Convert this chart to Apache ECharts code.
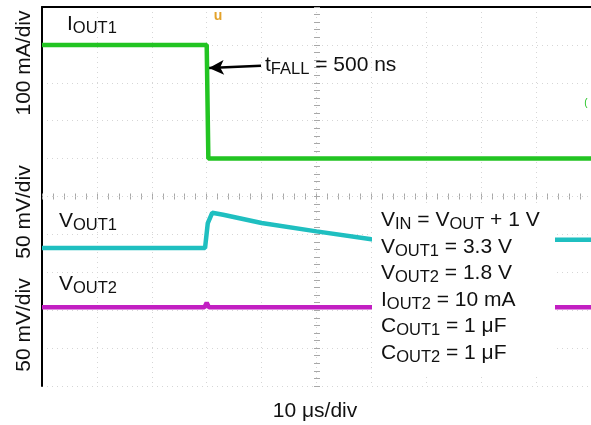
<!DOCTYPE html>
<html>
<head>
<meta charset="utf-8">
<script src="https://cdn.jsdelivr.net/npm/echarts@6/dist/echarts.min.js"></script>
<style>
  html, body { margin: 0; padding: 0; background: #fff; }
  #chart { width: 591px; height: 425px; }
</style>
</head>
<body>
<div id="chart"></div>
<script>
// Scope capture: load-current step on channel 1, both outputs.
// Time in divisions (10 µs/div), amplitudes in screen divisions.
const iout1Time = [0, 3.0, 3.03, 10];
const iout1Div  = [9.0, 9.0, 6.0, 6.0];

const vout1Time = [0, 2.97, 3.02, 3.1, 3.3, 4.0, 5.0, 6.0, 7.0, 10];
const vout1Div  = [3.64, 3.64, 4.3, 4.57, 4.52, 4.3, 4.08, 3.87, 3.86, 3.86];

const vout2Time = [0, 2.96, 3.0, 3.04, 10];
const vout2Div  = [2.08, 2.08, 2.2, 2.08, 2.08];

const xDivisions = [0, 10];
const yDivisions = [0, 10];

const FONT = "'Liberation Sans', Arial, Helvetica, sans-serif";
const pairs = (xs, ys) => xs.map((x, i) => [x, ys[i]]);

const mainStyle = { fontSize: 21, fontFamily: FONT, color: '#111', lineHeight: 26.5 };
const subStyle  = { fontSize: 16.5, fontFamily: FONT, color: '#111', lineHeight: 26.5, padding: [9, 0, 0, 0] };
const rich = { m: mainStyle, s: subStyle };

function richText(x, y, text) {
  return {
    type: 'text', x: x, y: y, z: 120,
    style: { text: text, rich: rich, fill: '#111', font: '21px ' + FONT, verticalAlign: 'top', align: 'left' }
  };
}

function sideTitle(x, y, text) {
  return {
    type: 'text', x: x, y: y, rotation: Math.PI / 2, z: 120,
    style: { text: text, fill: '#111', font: '21px ' + FONT, align: 'center', verticalAlign: 'middle' }
  };
}

const gridLine = { color: '#d6d6d6', width: 1, type: [1, 4] };
const centreTick = { color: '#a8a8a8', width: 1 };

const chart = echarts.init(document.getElementById('chart'), null, { renderer: 'canvas' });

chart.setOption({
  animation: false,
  backgroundColor: '#fff',
  grid: { left: 42, top: 7, width: 550, height: 379, containLabel: false },
  xAxis: [
    { type: 'value', min: xDivisions[0], max: xDivisions[1], interval: 1,
      axisLine: { show: false }, axisTick: { show: false }, axisLabel: { show: false },
      splitLine: { show: true, lineStyle: gridLine } },
    { type: 'value', position: 'top', min: xDivisions[0], max: xDivisions[1], interval: 1,
      axisLine: { show: true, onZero: false, lineStyle: { color: '#000', width: 2 } },
      axisTick: { show: false }, axisLabel: { show: false }, splitLine: { show: false } },
    // minor ticks along the horizontal centre line
    { type: 'value', position: 'bottom', offset: -189.5, min: xDivisions[0], max: xDivisions[1], interval: 1,
      axisLine: { show: false, onZero: false },
      axisTick: { show: true, inside: true, length: 3, lineStyle: centreTick },
      minorTick: { show: true, splitNumber: 5, length: 3, lineStyle: centreTick },
      axisLabel: { show: false }, splitLine: { show: false } },
    { type: 'value', position: 'bottom', offset: -189.5, min: xDivisions[0], max: xDivisions[1], interval: 1,
      axisLine: { show: false, onZero: false },
      axisTick: { show: true, inside: false, length: 3, lineStyle: centreTick },
      minorTick: { show: true, splitNumber: 5, length: 3, lineStyle: centreTick },
      axisLabel: { show: false }, splitLine: { show: false } }
  ],
  yAxis: [
    { type: 'value', min: yDivisions[0], max: yDivisions[1], interval: 1,
      axisLine: { show: true, onZero: false, lineStyle: { color: '#000', width: 2 } },
      axisTick: { show: false }, axisLabel: { show: false },
      splitLine: { show: true, lineStyle: gridLine } },
    // minor ticks along the vertical centre line
    { type: 'value', position: 'left', offset: -275, min: yDivisions[0], max: yDivisions[1], interval: 1,
      axisLine: { show: false, onZero: false },
      axisTick: { show: true, inside: true, length: 3, lineStyle: centreTick },
      minorTick: { show: true, splitNumber: 5, length: 3, lineStyle: centreTick },
      axisLabel: { show: false }, splitLine: { show: false } },
    { type: 'value', position: 'left', offset: -275, min: yDivisions[0], max: yDivisions[1], interval: 1,
      axisLine: { show: false, onZero: false },
      axisTick: { show: true, inside: false, length: 3, lineStyle: centreTick },
      minorTick: { show: true, splitNumber: 5, length: 3, lineStyle: centreTick },
      axisLabel: { show: false }, splitLine: { show: false } }
  ],
  series: [
    { name: 'IOUT1', type: 'line', xAxisIndex: 0, yAxisIndex: 0, showSymbol: false, z: 5,
      data: pairs(iout1Time, iout1Div),
      lineStyle: { color: '#22c422', width: 4.5 },
      markLine: {
        silent: true, symbol: ['none', 'arrow'], symbolSize: [11, 15],
        label: { show: false },
        lineStyle: { color: '#000', width: 2.5, type: 'solid' },
        data: [[ { coord: [3.99, 8.45] }, { coord: [3.04, 8.39] } ]]
      } },
    { name: 'VOUT1', type: 'line', xAxisIndex: 0, yAxisIndex: 0, showSymbol: false, z: 5,
      data: pairs(vout1Time, vout1Div),
      lineStyle: { color: '#1fbfc0', width: 4.5 } },
    { name: 'VOUT2', type: 'line', xAxisIndex: 0, yAxisIndex: 0, showSymbol: false, z: 5,
      data: pairs(vout2Time, vout2Div),
      lineStyle: { color: '#c21fc2', width: 4.5 } }
  ],
  graphic: [
    // white panel behind the test conditions
    { type: 'rect', z: 110, shape: { x: 372, y: 205, width: 183, height: 170 },
      style: { fill: '#fff' } },
    richText(381, 207,
      '{m|V}{s|IN}{m| = V}{s|OUT}{m| + 1 V}\n' +
      '{m|V}{s|OUT1}{m| = 3.3 V}\n' +
      '{m|V}{s|OUT2}{m| = 1.8 V}\n' +
      '{m|I}{s|OUT2}{m| = 10 mA}\n' +
      '{m|C}{s|OUT1}{m| = 1 μF}\n' +
      '{m|C}{s|OUT2}{m| = 1 μF}'),
    richText(67, 11, '{m|I}{s|OUT1}'),
    richText(59, 208, '{m|V}{s|OUT1}'),
    richText(59, 271, '{m|V}{s|OUT2}'),
    richText(265, 52, '{m|t}{s|FALL}{m| = 500 ns}'),
    sideTitle(24, 63, '100 mA/div'),
    sideTitle(24, 212, '50 mV/div'),
    sideTitle(24, 325, '50 mV/div'),
    { type: 'text', x: 315, y: 411, z: 120,
      style: { text: '10 μs/div', fill: '#111', font: '21px ' + FONT, align: 'center', verticalAlign: 'middle' } },
    // trigger position and channel-1 level markers
    { type: 'text', x: 218, y: 16, z: 120,
      style: { text: 'u', fill: '#e3a22a', font: 'bold 14px ' + FONT, align: 'center', verticalAlign: 'middle' } },
    { type: 'text', x: 586, y: 103, z: 120,
      style: { text: '(', fill: '#22c422', font: '10px ' + FONT, align: 'center', verticalAlign: 'middle' } }
  ]
});
</script>
</body>
</html>
